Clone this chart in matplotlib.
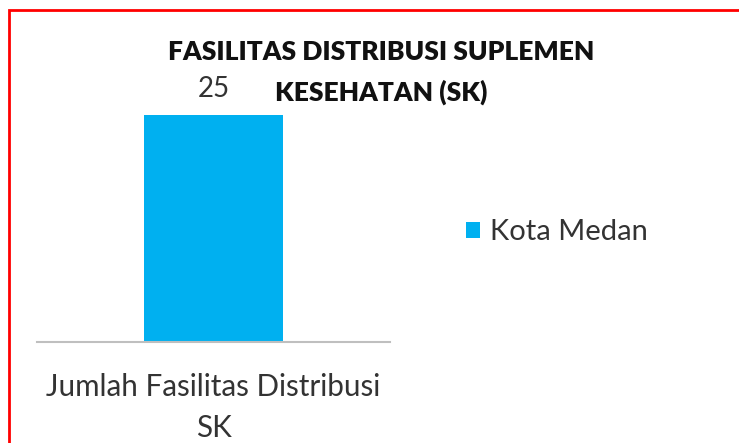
import matplotlib
matplotlib.use("Agg")
import matplotlib.pyplot as plt
from matplotlib.patches import Rectangle, Patch

categories = ["Jumlah Fasilitas Distribusi\nSK"]
series_name = "Kota Medan"
values = [25]
title_lines = ["FASILITAS DISTRIBUSI SUPLEMEN", "KESEHATAN (SK)"]

plt.rcParams['font.family'] = ['Lato', 'DejaVu Sans']

W, H = 739, 443
fig = plt.figure(figsize=(W / 100, H / 100), dpi=100)
fig.patch.set_facecolor("white")

# red frame (cropped at right/bottom)
fig.patches.append(Rectangle((9 / W, -0.1), 1.0, 1 - 10 / H + 0.1, transform=fig.transFigure,
                             fill=False, edgecolor="#ff0000", linewidth=2))

ax = fig.add_axes([37 / W, (H - 342) / H, (390 - 37) / W, (342 - 115) / H])
bars = ax.bar(range(len(categories)), values, width=0.394, color="#00B0F0")
ax.set_xlim(-0.5, 0.5)
ax.set_ylim(0, max(values))
for s in ["top", "right", "left"]:
    ax.spines[s].set_visible(False)
ax.spines["bottom"].set_color("#bfbfbf")
ax.spines["bottom"].set_linewidth(1.5)
ax.set_yticks([])
ax.set_xticks(range(len(categories)))
ax.set_xticklabels(categories, fontsize=21.3, color="#333333", linespacing=1.6)
ax.tick_params(axis="x", length=0, pad=22)

for b, v in zip(bars, values):
    ax.annotate(str(v), (b.get_x() + b.get_width() / 2, v), xytext=(0, 9),
                textcoords="offset points", ha="center", va="bottom",
                fontsize=20, color="#333333", annotation_clip=False)

for i, line in enumerate(title_lines):
    fig.text(381 / W, 1 - (52 + 40 * i) / H, line, ha="center", va="center",
             fontsize=19, fontweight="heavy", color="#111111")

fig.legend(handles=[Patch(facecolor="#00B0F0", label=series_name)],
           loc="center left", bbox_to_anchor=(440 / W, 1 - 232 / H), frameon=False,
           fontsize=21, handlelength=0.48, handleheight=0.48, handletextpad=0.34,
           labelcolor="#333333")

fig.savefig("out.png", dpi=100)
